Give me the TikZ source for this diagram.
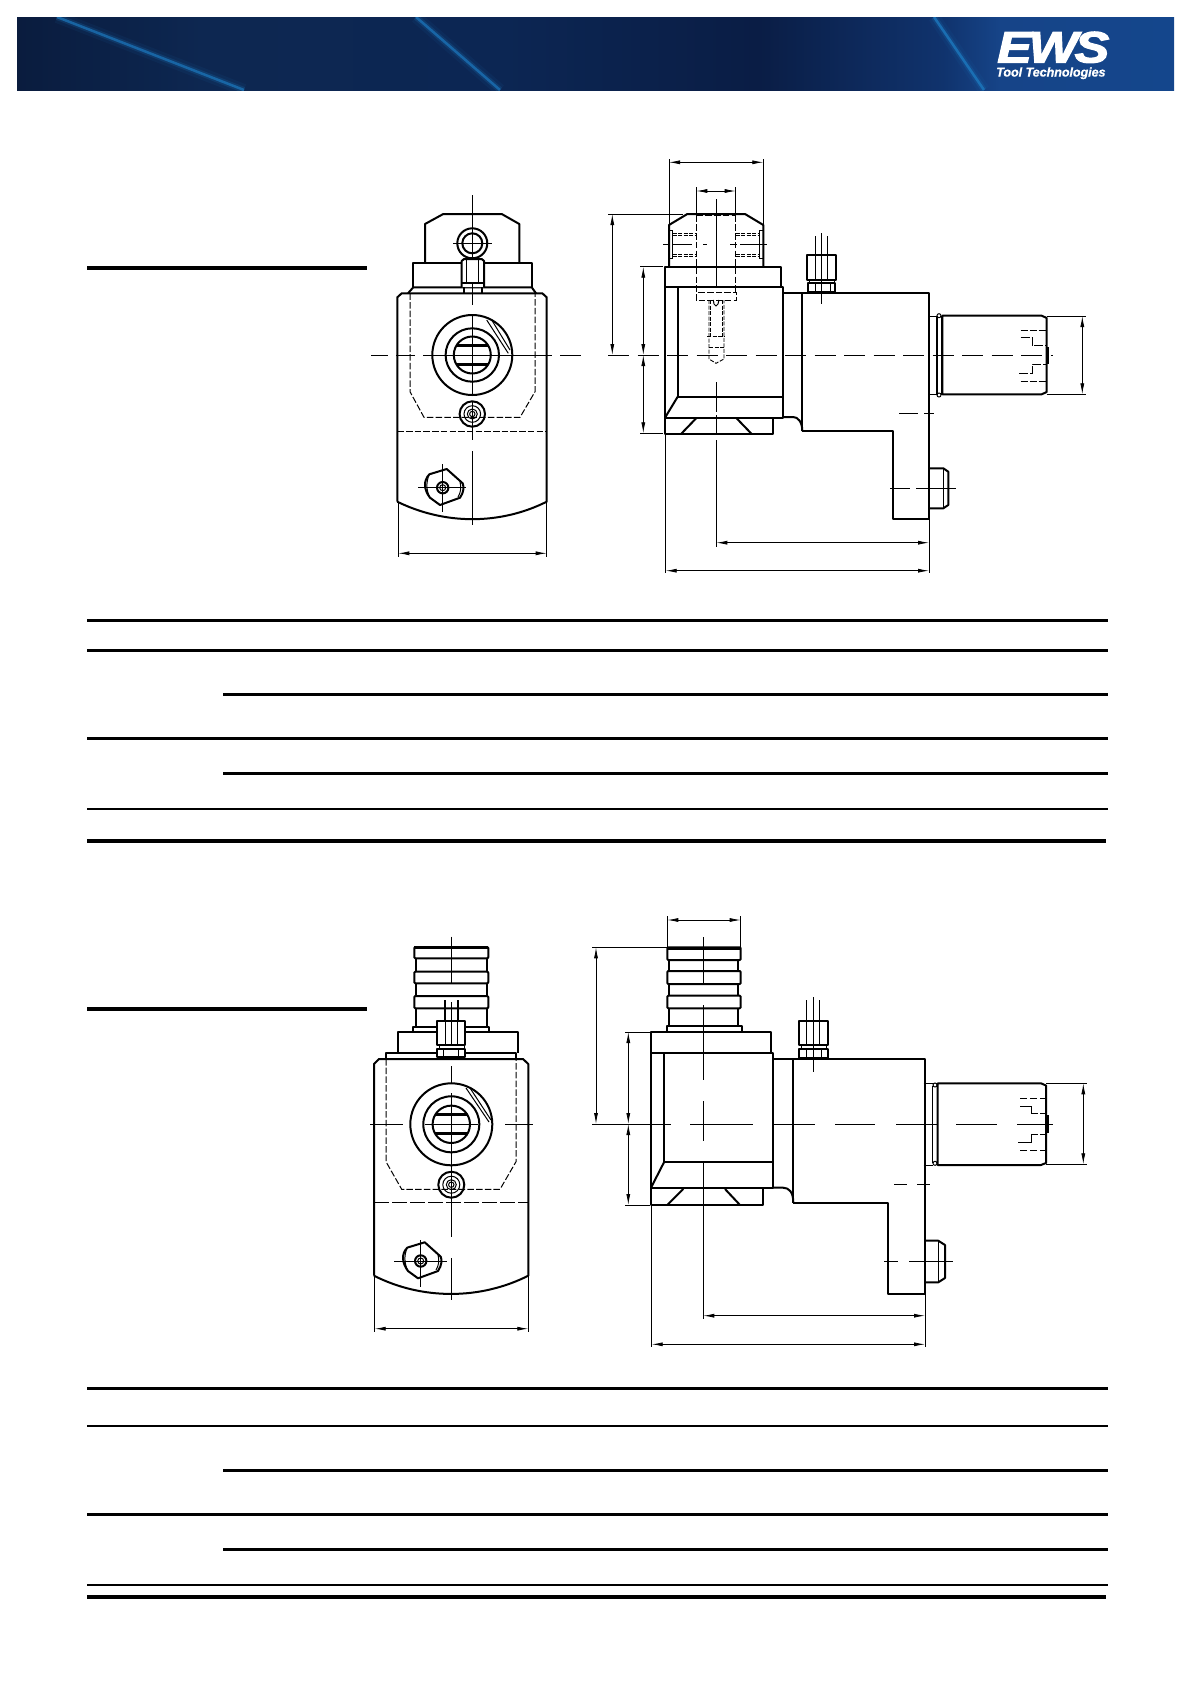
\documentclass[tikz,border=0pt]{standalone}
\usepackage{fontspec}
\setmainfont{Liberation Sans}
\newfontfamily\logofont[FakeBold=2.5,LetterSpace=-6]{Liberation Sans}
\newfontfamily\tagfont[FakeBold=0.6,LetterSpace=-1]{Liberation Sans}
\usepackage{tikz}
\usetikzlibrary{arrows.meta,positioning}
\definecolor{barA}{HTML}{0A1C3E}
\definecolor{barB}{HTML}{0D2751}
\definecolor{barC}{HTML}{0C2653}
\definecolor{barD}{HTML}{0A1D45}
\definecolor{barE}{HTML}{10336D}
\definecolor{barF}{HTML}{164488}
\definecolor{barG}{HTML}{14468C}
\definecolor{streak}{HTML}{1C78BE}
\pgfdeclarehorizontalshading{headbar}{100bp}{color(0bp)=(barA); color(25bp)=(barA); color(33bp)=(barB); color(46bp)=(barC); color(57bp)=(barD); color(65bp)=(barE); color(67.5bp)=(barF); color(75bp)=(barG); color(100bp)=(barG)}
\tikzset{
	partline/.style={line width=2pt, line join=round},
	thickpart/.style={line width=3pt},
	thinpart/.style={line width=1pt},
	hiddenline/.style={line width=1pt, dash pattern=on 6.5pt off 2.2pt},
	hiddenfine/.style={line width=0.9pt, dash pattern=on 4pt off 1.5pt},
	axisline/.style={line width=0.9pt},
	axislong/.style={line width=0.9pt, dash pattern=on 21pt off 8.5pt},
	extline/.style={line width=0.8pt},
	dimline/.style={line width=0.8pt, {Latex[length=11pt,width=4pt]}-{Latex[length=11pt,width=4pt]}},
	tablerule/.style={line width=3pt},
	headrule/.style={line width=4pt},
	finerule/.style={line width=2pt},
}
\begin{document}
\begin{tikzpicture}[x=1pt, y=-1pt]
	\useasboundingbox (0,0) rectangle (1190,1684);

	\fill[shading=headbar] (17,17) rectangle (1174,90);
	\begin{scope}
		\clip (17,17) rectangle (1174,90);
		\draw[streak, line width=12pt, opacity=0.08] (57,17) -- (244,90);
		\draw[streak, line width=6pt, opacity=0.2] (57,17) -- (244,90);
		\draw[streak, line width=2.5pt, opacity=0.7] (57,17) -- (244,90);
		\draw[streak, line width=12pt, opacity=0.08] (416,17) -- (500,90);
		\draw[streak, line width=6pt, opacity=0.2] (416,17) -- (500,90);
		\draw[streak, line width=2.5pt, opacity=0.7] (416,17) -- (500,90);
		\draw[streak, line width=12pt, opacity=0.08] (934,17) -- (984,90);
		\draw[streak, line width=6pt, opacity=0.2] (934,17) -- (984,90);
		\draw[streak, line width=2.5pt, opacity=0.8] (934,17) -- (984,90);
	\end{scope}
	\node[white, inner sep=0pt, anchor=base west, xscale=1.18] (logomark) at (997,62.5) {\fontsize{44pt}{44pt}\logofont\bfseries\itshape EWS};
	\node[white, inner sep=0pt, anchor=base west] (logotag) at (996,76.5) {\fontsize{12.7pt}{13pt}\tagfont\bfseries\itshape Tool Technologies};

	\draw[headrule] (87,268.3) -- (367,268.3);
	\draw[headrule] (87,1009) -- (367,1009);

	\draw[tablerule] (87,620.3) -- (1108,620.3);
	\draw[tablerule] (87,650.3) -- (1108,650.3);
	\draw[tablerule] (223,694.3) -- (1108,694.3);
	\draw[tablerule] (87,738.3) -- (1108,738.3);
	\draw[tablerule] (223,773.3) -- (1108,773.3);
	\draw[finerule] (87,809) -- (1108,809);
	\draw[headrule] (87,841) -- (1106,841);

	\draw[tablerule] (87,1388.3) -- (1108,1388.3);
	\draw[finerule] (87,1426) -- (1108,1426);
	\draw[tablerule] (223,1470.3) -- (1108,1470.3);
	\draw[tablerule] (87,1514.3) -- (1108,1514.3);
	\draw[tablerule] (223,1549.3) -- (1108,1549.3);
	\draw[finerule] (87,1585) -- (1108,1585);
	\draw[headrule] (87,1597) -- (1106,1597);

	\draw[partline] (397.3,501.7) -- (397.3,297.3) -- (401.7,293.3) -- (542.3,293.3) -- (546.7,297.3) -- (546.7,501.7) .. controls (500,525) and (445,525) .. (397.3,501.7);
	\draw[partline] (408,293.3) -- (413.3,287.3) -- (531.7,287.3) -- (536,293.3);
	\draw[partline] (413.3,287.3) -- (413.3,263.3) -- (531.7,263.3) -- (531.7,287.3);
	\draw[partline] (425,262.7) -- (425,224) -- (443.3,214) -- (501.7,214) -- (519.3,224) -- (519.3,262.7);
	\draw[partline] (472.3,243.3) circle (15);
	\draw[partline] (472.3,243.3) circle (10);
	\draw[fill=white, draw=none] (461.7,259) rectangle (484,287);
	\draw[partline, fill=white] (461.7,287) -- (461.7,261) -- (464,259) -- (481.7,259) -- (484,261) -- (484,287);
	\draw[thinpart] (466,260) -- (466,282) (478,260) -- (478,282);
	\draw[partline] (461.7,282.7) -- (484,282.7);
	\draw[partline] (464,287) -- (464,292.7) (482,287) -- (482,292.7);
	\draw[thinpart] (472.3,287) -- (472.3,292.7);
	\draw[partline] (472.3,355) circle (40);
	\draw[partline] (472.3,355) circle (26.7);
	\draw[partline] (472.3,355) circle (18.5);
	\draw[thickpart] (456.3,345.7) -- (488.3,345.7);
	\draw[thickpart] (456.3,364.3) -- (488.3,364.3);
	\draw[thinpart] (486.7,320) -- (508.3,353.3);
	\draw[thinpart] (491.7,320) -- (510,350);
	\draw[partline] (472.3,414) circle (12.7);
	\draw[thinpart] (472.3,414) circle (8.3);
	\draw[thinpart] (472.3,414) circle (5);
	\draw[thinpart] (472.3,414) circle (2.7);
	\draw[hiddenline] (410,293.3) -- (410,391.7) -- (424,417.3) -- (520,417.3) -- (535,391.7) -- (535,293.3);
	\draw[hiddenline] (397.3,431) -- (546.7,431);
	\draw[partline] (429.3,474.3) .. controls (423,481) and (424,490) .. (430,497.7) -- (440,505) -- (460,497.7) .. controls (464,492) and (464,487) .. (462.7,483.3) -- (446.7,469) -- cycle;
	\draw[thinpart] (429.3,474.3) .. controls (426,482) and (426,490) .. (430,497.7);
	\draw[thinpart] (460,482) .. controls (461.5,487) and (461,492) .. (458,497);
	\draw[partline] (442.7,487.7) circle (5.7);
	\draw[thinpart] (442.7,487.7) circle (3);
	\draw[axisline] (418,487.7) -- (466,487.7) (442.7,464) -- (442.7,512);
	\draw[axisline] (472.3,195) -- (472.3,258) (472.3,283) -- (472.3,305) (472.3,315) -- (472.3,395) (472.3,402) -- (472.3,440) (472.3,451) -- (472.3,525);
	\draw[axisline] (371,355) -- (388,355) (396,355) -- (415,355) (423,355) -- (552,355) (560,355) -- (581,355);
	\draw[axisline] (453,243.3) -- (491.7,243.3) (472.3,224) -- (472.3,258);
	\draw[extline] (398.3,501.7) -- (398.3,556.7) (546.7,501.7) -- (546.7,556.7);
	\draw[dimline] (398.3,553.3) -- (546.7,553.3);

	\draw[partline] (669,266.7) -- (669,225) -- (687.3,214) -- (745,214) -- (763.3,225) -- (763.3,266.7);
	\draw[thinpart] (669,230.7) rectangle (672.7,258.3);
	\draw[thinpart] (759.7,230.7) rectangle (763.3,258.3);
	\draw[partline] (665,286.7) -- (665,266.7) -- (781,266.7) -- (781,286.7);
	\draw[partline] (665,286.7) rectangle (782.7,417.7);
	\draw[partline] (677.7,286.7) -- (677.7,396.7) -- (782.7,396.7);
	\draw[partline] (677.7,396.7) -- (665,417.7);
	\draw[partline] (665,417.7) -- (665,434) -- (773.3,434) -- (773.3,417.7);
	\draw[partline] (681,434) -- (696.7,417.7) (751.7,434) -- (736,417.7);
	\draw[partline] (782.7,292.7) -- (929,292.7) -- (929,519.3) -- (893.3,519.3) -- (893.3,431) -- (802.3,431);
	\draw[partline] (802.3,292.7) -- (802.3,431);
	\draw[partline] (782.7,417) -- (793,417) .. controls (798,417) and (802.3,422) .. (802.3,431);
	\draw[partline] (942.3,394.3) -- (942.3,315.7) -- (1041.7,315.7) -- (1046.7,318) -- (1046.7,392) -- (1041.7,394.3) -- cycle;
	\draw[thinpart] (929,316.7) -- (937,316.7) (929,394) -- (937,394);
	\draw[partline] (937,316) -- (937,395) (941.7,316) -- (941.7,395);
	\draw[thinpart] (939,315.7) circle (2) (939,395) circle (2);
	\draw[thickpart] (1047.5,347) -- (1047.5,364);
	\draw[hiddenfine, dash pattern=on 7pt off 2pt] (1020.7,330.3) -- (1046,330.3) (1020.7,381) -- (1046,381);
	\draw[hiddenline, dash pattern=on 9pt off 2pt] (1020.7,337.3) -- (1032.3,337.3) -- (1032.3,345.7) -- (1046,345.7);
	\draw[hiddenline, dash pattern=on 9pt off 2pt] (1019.3,373.3) -- (1032.3,373.3) -- (1032.3,364.3) -- (1046,364.3);
	\draw[partline] (929,468.3) -- (943.3,468.3) -- (948.3,471.7) -- (948.3,505) -- (943.3,508.3) -- (929,508.3);
	\draw[thinpart] (943.3,468.3) -- (943.3,508.3);
	\draw[partline] (807.3,280) rectangle (836,255);
	\draw[thinpart] (815,255) -- (815,280) (827.7,255) -- (827.7,280);
	\draw[partline] (808,292.7) -- (808,283.3) -- (835,283.3) -- (835,292.7);
	\draw[thinpart] (809,280) -- (809,283.3) (834,280) -- (834,283.3) (815,283.3) -- (815,292.7) (830,283.3) -- (830,292.7);
	\draw[partline] (808,291.5) -- (835,291.5);
	\draw[thinpart] (815,236) -- (815,255) (827.7,236) -- (827.7,255);
	\draw[axisline] (821.7,233) -- (821.7,304);
	\draw[hiddenline] (696.7,215.7) -- (735.7,215.7) (696.7,215.7) -- (696.7,300.7) -- (736.7,300.7) -- (736.7,292.3) -- (696.7,292.3) (735.7,215.7) -- (735.7,292.3);
	\draw[hiddenfine] (709,300) -- (709,359) -- (716,363.3) -- (724,359) -- (724,300);
	\draw[hiddenfine] (710.7,300) -- (710.7,336.7) (722.3,300) -- (722.3,336.7) (707,336.7) -- (725,336.7) (709,347.7) -- (724,347.7);
	\draw[thinpart] (713.3,300) -- (714,304) -- (716,306) -- (718,304) -- (719,300);
	\draw[hiddenfine] (672.7,233.3) -- (696.7,233.3) (672.7,235.7) -- (696.7,235.7) (672.7,254.3) -- (696.7,254.3) (672.7,256.7) -- (696.7,256.7);
	\draw[hiddenfine] (735.7,233.3) -- (759.7,233.3) (735.7,235.7) -- (759.7,235.7) (735.7,254.3) -- (759.7,254.3) (735.7,256.7) -- (759.7,256.7);
	\draw[axisline] (663,244.3) -- (668,244.3) (673,244.3) -- (692,244.3) (703,244.3) -- (707,244.3) (730,244.3) -- (737,244.3) (740,244.3) -- (767,244.3);
	\draw[axislong] (608,355) -- (1053,355);
	\draw[axisline] (716.3,199) -- (716.3,288) (716.3,382) -- (716.3,412) (716.3,415) -- (716.3,433) (716.3,440) -- (716.3,546.7);
	\draw[axisline] (899,413.3) -- (918,413.3) (924,413.3) -- (934,413.3);
	\draw[axisline] (890,488.3) -- (910,488.3) (916,488.3) -- (956,488.3);
	\draw[extline] (669,159.3) -- (669,225) (763.3,159.3) -- (763.3,225);
	\draw[dimline] (669,162.3) -- (763.3,162.3);
	\draw[extline] (696.3,187.3) -- (696.3,215.7) (735.7,187.3) -- (735.7,215.7);
	\draw[dimline] (696.3,191) -- (735.7,191);
	\draw[extline] (608,214) -- (683,214);
	\draw[dimline] (612.3,214) -- (612.3,355);
	\draw[extline] (640,266.7) -- (663.3,266.7) (640,433.3) -- (663.3,433.3);
	\draw[dimline] (643.3,266.7) -- (643.3,355);
	\draw[dimline] (643.3,355) -- (643.3,433.3);
	\draw[extline] (1046.7,316) -- (1086,316) (1046.7,394.3) -- (1086,394.3);
	\draw[dimline] (1082.3,316) -- (1082.3,394.3);
	\draw[extline] (665.7,435) -- (665.7,573.3) (929,519.3) -- (929,573.3);
	\draw[dimline] (716.3,542.7) -- (929,542.7);
	\draw[dimline] (665.7,570.7) -- (929,570.7);

	\draw[partline] (374,1275.7) -- (374,1064) -- (379,1059) -- (523,1059) -- (528.3,1064) -- (528.3,1275.7) .. controls (480,1300) and (422,1300) .. (374,1275.7);
	\draw[partline] (386,1059) -- (386,1052.7) -- (516,1052.7) -- (516,1059);
	\draw[partline] (398.3,1052.7) -- (398.3,1031.7) -- (518.3,1031.7) -- (518.3,1052.7);
	\draw[partline] (413.3,1031.7) -- (413.3,1026.7) -- (489.3,1026.7) -- (489.3,1031.7);
	\draw[partline] (416,1026.7) -- (416,958) (486.7,1026.7) -- (486.7,958);
	\draw[partline, fill=white, rounded corners=1pt] (414.3,947) rectangle (488.3,958.3);
	\draw[thickpart] (414.3,947.5) -- (488.3,947.5);
	\draw[partline, fill=white, rounded corners=1pt] (414.3,971.7) rectangle (488.3,983.3);
	\draw[partline, fill=white, rounded corners=1pt] (414.3,996) rectangle (488.3,1008.3);
	\draw[partline, fill=white] (436.7,1045) rectangle (465.3,1020.7);
	\draw[thinpart] (445,1020.7) -- (445,1045) (457.7,1020.7) -- (457.7,1045);
	\draw[partline, fill=white] (437.3,1057.3) rectangle (465.3,1049.3);
	\draw[thinpart] (439,1045) -- (439,1049.3) (464,1045) -- (464,1049.3) (443.3,1049.3) -- (443.3,1057.3) (458.3,1049.3) -- (458.3,1057.3);
	\draw[partline, fill=white] (445,1000) -- (445,1020.7) (457.7,1000) -- (457.7,1020.7);
	\draw[partline] (451.3,1124.3) circle (41);
	\draw[partline] (451.3,1124.3) circle (28);
	\draw[partline] (451.3,1124.3) circle (18.7);
	\draw[thickpart] (435.3,1114.7) -- (467.3,1114.7);
	\draw[thickpart] (435.3,1133.9) -- (467.3,1133.9);
	\draw[thinpart] (466,1088) -- (489,1122);
	\draw[thinpart] (470,1088) -- (491,1120);
	\draw[partline] (451.3,1184.7) circle (13);
	\draw[thinpart] (451.3,1184.7) circle (8.5);
	\draw[thinpart] (451.3,1184.7) circle (5);
	\draw[thinpart] (451.3,1184.7) circle (2.7);
	\draw[hiddenline] (386,1059) -- (386,1161.7) -- (401.7,1189.3) -- (500,1189.3) -- (516,1161.7) -- (516,1059);
	\draw[hiddenline, dash pattern=on 15pt off 3pt] (374,1202.3) -- (528.3,1202.3);
	\draw[partline] (407.3,1247.6) .. controls (401,1254) and (402,1263) .. (408,1271) -- (418,1278.3) -- (438,1271) .. controls (442,1265) and (442,1260) .. (440.7,1256.6) -- (424.7,1242.3) -- cycle;
	\draw[thinpart] (407.3,1247.6) .. controls (404,1255) and (404,1263) .. (408,1271);
	\draw[thinpart] (438,1255) .. controls (439.5,1260) and (439,1265) .. (436,1270);
	\draw[partline] (420.7,1261) circle (5.7);
	\draw[thinpart] (420.7,1261) circle (3);
	\draw[axisline] (394.3,1261) -- (446.7,1261) (420.7,1240) -- (420.7,1287.3);
	\draw[axisline] (451.3,936.7) -- (451.3,983) (451.3,1002) -- (451.3,1045) (451.3,1066) -- (451.3,1083.3) (451.3,1093) -- (451.3,1237) (451.3,1258) -- (451.3,1300);
	\draw[axisline] (370,1124.3) -- (403,1124.3) (425,1124.3) -- (478,1124.3) (505,1124.3) -- (532.7,1124.3);
	\draw[extline] (374.7,1275.7) -- (374.7,1332.3) (528.3,1275.7) -- (528.3,1332.3);
	\draw[dimline] (374.7,1328.7) -- (528.3,1328.7);

	\draw[partline, rounded corners=1pt] (667.3,947.3) rectangle (740.7,960);
	\draw[thickpart] (667.3,948) -- (740.7,948);
	\draw[partline, rounded corners=1pt] (667.3,971) rectangle (740.7,984);
	\draw[partline, rounded corners=1pt] (667.3,995.7) rectangle (740.7,1008.3);
	\draw[partline] (669.3,960) -- (669.3,971) (738.3,960) -- (738.3,971) (669.3,984) -- (669.3,995.7) (738.3,984) -- (738.3,995.7) (669.3,1008.3) -- (669.3,1025.7) (738.3,1008.3) -- (738.3,1025.7);
	\draw[partline] (666.7,1031) -- (666.7,1025.7) -- (741.7,1025.7) -- (741.7,1031);
	\draw[partline] (651,1052.7) -- (651,1031.7) -- (771,1031.7) -- (771,1052.7);
	\draw[partline] (651,1052.7) rectangle (772.7,1187.7);
	\draw[partline] (664.3,1052.7) -- (664.3,1161.7) -- (772.7,1161.7);
	\draw[partline] (664.3,1161.7) -- (651,1187.7);
	\draw[partline] (651,1187.7) -- (651,1205) -- (762.7,1205) -- (762.7,1187.7);
	\draw[partline] (667.3,1205) -- (683.3,1189) (740,1205) -- (725,1189);
	\draw[partline] (772.7,1059) -- (925,1059) -- (925,1294) -- (888.3,1294) -- (888.3,1202.7) -- (793.3,1202.7);
	\draw[partline] (793.3,1059) -- (793.3,1202.7);
	\draw[partline] (772.7,1187.7) -- (783,1187.7) .. controls (789,1187.7) and (793.3,1192) .. (793.3,1202.7);
	\draw[partline] (937.7,1165) -- (937.7,1083.3) -- (1041,1083.3) -- (1046,1085.5) -- (1046,1163) -- (1041,1165) -- cycle;
	\draw[thinpart] (923.5,1083.5) -- (932.7,1083.5) (923.5,1165) -- (932.7,1165);
	\draw[thinpart] (932.7,1086) -- (932.7,1163);
	\draw[thinpart] (935,1085) circle (2) (935,1163.3) circle (2);
	\draw[thickpart] (1047,1115) -- (1047,1133);
	\draw[hiddenline, dash pattern=on 7pt off 3pt] (1020,1098.3) -- (1046,1098.3) (1020,1150) -- (1046,1150);
	\draw[thinpart] (1020,1106.7) -- (1031.7,1106.7) -- (1031.7,1113.3) -- (1038,1113.3) (1018.3,1142.3) -- (1031.7,1142.3) -- (1031.7,1134.3) -- (1038,1134.3);
	\draw[thinpart] (1040,1113.3) -- (1046,1113.3) (1040,1134.3) -- (1046,1134.3);
	\draw[partline] (925,1240.7) -- (938.3,1240.7) -- (945,1245) -- (945,1278) -- (938.3,1282.3) -- (925,1282.3);
	\draw[thinpart] (938.3,1240.7) -- (938.3,1282.3);
	\draw[partline] (799,1045) rectangle (827.7,1020.7);
	\draw[thinpart] (806.7,1020.7) -- (806.7,1045) (819.3,1020.7) -- (819.3,1045);
	\draw[partline] (799,1059) -- (799,1049.3) -- (827.7,1049.3) -- (827.7,1059);
	\draw[thinpart] (801,1045) -- (801,1049.3) (826,1045) -- (826,1049.3) (806,1049.3) -- (806,1059) (821,1049.3) -- (821,1059);
	\draw[partline] (799,1057.5) -- (827.7,1057.5);
	\draw[thinpart] (806.7,1000) -- (806.7,1020.7) (819.3,1000) -- (819.3,1020.7);
	\draw[axisline] (813.3,997) -- (813.3,1071.7);
	\draw[axisline] (703.3,937) -- (703.3,984) (703.3,1005) -- (703.3,1080) (703.3,1101) -- (703.3,1140.7) (703.3,1163) -- (703.3,1319);
	\draw[axisline] (592,1124) -- (670.7,1124) (690,1124) -- (753,1124) (773,1124) -- (815,1124) (835,1124) -- (875,1124) (896,1124) -- (937,1124) (956,1124) -- (997,1124) (1017,1124) -- (1052.7,1124);
	\draw[axisline] (894,1184.3) -- (906.7,1184.3) (917,1184.3) -- (930,1184.3);
	\draw[axisline] (884,1261) -- (898,1261) (909,1261) -- (952.7,1261);
	\draw[extline] (667.3,916) -- (667.3,947.3) (740.7,916) -- (740.7,947.3);
	\draw[dimline] (667.3,920) -- (740.7,920);
	\draw[extline] (592,947.3) -- (666.7,947.3);
	\draw[dimline] (596,947.3) -- (596,1124);
	\draw[extline] (625,1032) -- (650,1032) (625,1205) -- (650,1205);
	\draw[dimline] (628.3,1032) -- (628.3,1124);
	\draw[dimline] (628.3,1124) -- (628.3,1205);
	\draw[extline] (1046,1083.3) -- (1086.7,1083.3) (1046,1164.3) -- (1086.7,1164.3);
	\draw[dimline] (1083.3,1083.3) -- (1083.3,1164.3);
	\draw[extline] (651.7,1205) -- (651.7,1347.3) (925,1294) -- (925,1347.3);
	\draw[dimline] (703.3,1315.7) -- (925,1315.7);
	\draw[dimline] (651.7,1344.3) -- (925,1344.3);
\end{tikzpicture}
\end{document}
